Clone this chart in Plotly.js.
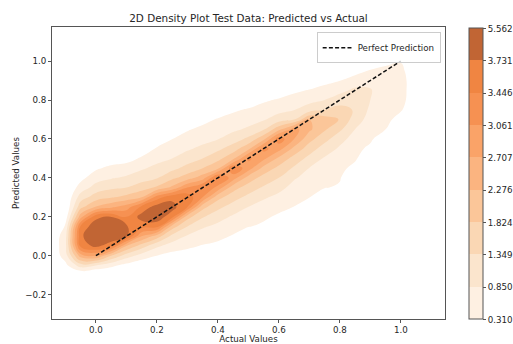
<!DOCTYPE html>
<html>
<head>
<meta charset="utf-8">
<script src="https://cdn.plot.ly/plotly-3.0.1.min.js"></script>
<style>
html,body{margin:0;padding:0;background:#fff;}
#chart{width:513px;height:344px;}
</style>
</head>
<body>
<div id="chart"></div>
<script>
const gridX = [-0.15, -0.10, -0.05, 0.00, 0.05, 0.10, 0.15, 0.20, 0.25, 0.30, 0.35, 0.40, 0.45,
               0.50, 0.55, 0.60, 0.65, 0.70, 0.75, 0.80, 0.85, 0.90, 0.95, 1.00, 1.05, 1.10];
const gridY = [-0.15, -0.10, -0.05, 0.00, 0.05, 0.10, 0.15, 0.20, 0.25, 0.30, 0.35, 0.40, 0.45,
               0.50, 0.55, 0.60, 0.65, 0.70, 0.75, 0.80, 0.85, 0.90, 0.95, 1.00, 1.05];

// one row per x column (values along y, bottom to top); below 0 = outside the lowest contour
const densityLevelGrid = [
/* -0.15 */ [-1,-1,-1,-1,-1,-1,-1,-1,-1,-1,-1,-1,-1,-1,-1,-1,-1,-1,-1,-1,-1,-1,-1,-1,-1],
/* -0.10 */ [-1,-1,-0.3,0.5,0.7,0.6,0.1,-0.6,-1,-1,-1,-1,-1,-1,-1,-1,-1,-1,-1,-1,-1,-1,-1,-1,-1],
/* -0.05 */ [-1,-1.2,1.5,4.5,7.3,7.8,7.2,4.6,2.7,1.5,0.4,-0.3,-1,-1,-1,-1,-1,-1,-1,-1,-1,-1,-1,-1,-1],
/*  0.00 */ [-1,-1.5,1.0,5.0,8.3,8.9,8.7,7.7,4.1,2.5,1.4,0.57,-0.15,-1,-1,-1,-1,-1,-1,-1,-1,-1,-1,-1,-1],
/*  0.05 */ [-1,-1.2,0.25,3.0,7.3,8.9,8.9,8.05,4.8,2.9,1.8,0.9,0.25,-0.6,-1,-1,-1,-1,-1,-1,-1,-1,-1,-1,-1],
/*  0.10 */ [-1,-1.2,-0.38,1.5,4.0,8.2,8.1,7.0,5.5,3.33,2.0,1.17,0.43,-0.4,-1,-1,-1,-1,-1,-1,-1,-1,-1,-1,-1],
/*  0.15 */ [-1,-1.5,-0.85,0.57,2.5,5.0,7.4,8.4,7.3,4.0,2.5,1.57,0.86,0.14,-0.6,-1,-1,-1,-1,-1,-1,-1,-1,-1,-1],
/*  0.20 */ [-1,-1,-1.2,-0.02,1.2,3.5,7.4,8.6,8.5,6.5,3.17,1.93,1.27,0.67,0.11,-0.6,-1,-1,-1,-1,-1,-1,-1,-1,-1],
/*  0.25 */ [-1,-1,-1.3,-0.35,0.52,1.69,3.5,7.4,8.4,7.7,4.25,2.75,1.71,1.0,0.5,-0.02,-0.7,-1,-1,-1,-1,-1,-1,-1,-1],
/*  0.30 */ [-1,-1,-1.2,-0.47,0.2,0.87,2.0,3.4,7.0,7.6,6.0,3.5,2.33,1.5,0.86,0.38,-0.1,-0.8,-1,-1,-1,-1,-1,-1,-1],
/*  0.35 */ [-1,-1,-1,-1.2,-0.07,0.5,1.13,2.11,3.33,6.0,7.1,4.5,3.0,2.0,1.23,0.68,0.23,-0.3,-1,-1,-1,-1,-1,-1,-1],
/*  0.40 */ [-1,-1,-1,-1.2,-0.25,0.25,0.74,1.4,2.26,3.33,5.67,7.2,3.78,2.7,1.77,0.96,0.53,0.09,-0.6,-1,-1,-1,-1,-1,-1],
/*  0.45 */ [-1,-1,-1,-1,-1.2,-0.085,0.39,0.86,1.56,2.4,3.43,5.5,6.8,3.74,2.51,1.49,0.79,0.32,-0.15,-0.8,-1,-1,-1,-1,-1],
/*  0.50 */ [-1,-1,-1,-1,-1,-1.0,0.06,0.52,0.97,1.72,2.52,3.57,5.5,6.2,3.77,2.23,1.16,0.59,0.1,-0.6,-1,-1,-1,-1,-1],
/*  0.55 */ [-1,-1,-1,-1,-1,-1.3,-0.23,0.21,0.64,1.12,1.87,2.62,3.66,5.25,6.3,3.74,1.87,0.89,0.36,-0.15,-0.8,-1,-1,-1,-1],
/*  0.60 */ [-1,-1,-1,-1,-1,-1,-1.0,-0.2,0.33,0.75,1.29,2.0,2.71,3.75,5.4,6.6,3.67,1.5,0.67,0.11,-0.6,-1,-1,-1,-1],
/*  0.65 */ [-1,-1,-1,-1,-1,-1,-1,-1.0,-0.03,0.34,0.69,1.1,1.85,2.62,3.71,5.0,5.4,2.0,0.97,0.38,-0.2,-1,-1,-1,-1],
/*  0.70 */ [-1,-1,-1,-1,-1,-1,-1,-1,-1.0,0.03,0.34,0.66,0.97,1.69,2.5,3.33,4.2,4.0,1.5,0.69,0.06,-0.7,-1,-1,-1],
/*  0.75 */ [-1,-1,-1,-1,-1,-1,-1,-1,-1,-1.0,0.07,0.34,0.62,0.9,1.52,2.36,3.15,3.5,2.0,1.0,0.36,-0.3,-1,-1,-1],
/*  0.80 */ [-1,-1,-1,-1,-1,-1,-1,-1,-1,-1,-0.15,0.1,0.35,0.6,0.85,1.33,2.2,2.95,2.4,1.5,0.71,-0.02,-0.8,-1,-1],
/*  0.85 */ [-1,-1,-1,-1,-1,-1,-1,-1,-1,-1,-1,-1.2,-0.4,0.2,0.4,0.6,1.0,1.5,1.9,1.6,1.2,0.5,-0.4,-1,-1],
/*  0.90 */ [-1,-1,-1,-1,-1,-1,-1,-1,-1,-1,-1,-1,-1,-1.2,-0.3,0.25,0.45,0.6,0.8,1.0,1.05,0.8,0.1,-0.8,-1],
/*  0.95 */ [-1,-1,-1,-1,-1,-1,-1,-1,-1,-1,-1,-1,-1,-1,-1,-1.0,0.02,0.3,0.45,0.55,0.6,0.55,0.3,-0.3,-1],
/*  1.00 */ [-1,-1,-1,-1,-1,-1,-1,-1,-1,-1,-1,-1,-1,-1,-1,-1,-1.2,-0.4,0.1,0.25,0.3,0.3,0.2,-0.05,-0.8],
/*  1.05 */ [-1,-1,-1,-1,-1,-1,-1,-1,-1,-1,-1,-1,-1,-1,-1,-1,-1,-1,-0.8,-0.5,-0.5,-0.5,-0.6,-0.9,-1],
/*  1.10 */ [-1,-1,-1,-1,-1,-1,-1,-1,-1,-1,-1,-1,-1,-1,-1,-1,-1,-1,-1,-1,-1,-1,-1,-1,-1]
];

// contour levels shown on the colour bar (density values)
const densityLevels = [0.310, 0.850, 1.349, 1.824, 2.276, 2.707, 3.061, 3.446, 3.731, 5.562];
// fill colour of each band between consecutive levels (bottom to top)
const bandColors = ['#fef0e2', '#fbe5cd', '#fad7b4', '#fbc699', '#fbb480',
                    '#faa368', '#f69152', '#f08542', '#c16534'];

// perfect prediction reference line
const perfectX = [0, 1];
const perfectY = [0, 1];

const xTicks = [0.0, 0.2, 0.4, 0.6, 0.8, 1.0];
const yTicks = [-0.2, 0.0, 0.2, 0.4, 0.6, 0.8, 1.0];

const nBands = bandColors.length;
const levelIndex = densityLevels.map((v, i) => i);

// contour fill: background (below first level) transparent, then one colour per band
const contourScale = [[0, 'rgba(255,255,255,0)']].concat(
  bandColors.map((c, i) => [(i + 1) / nBands, c]));

// stepped scale for the colour bar
const barScale = [];
bandColors.forEach((c, i) => { barScale.push([i / nBands, c]); barScale.push([(i + 1) / nBands, c]); });

const FONT = 'DejaVu Sans, Liberation Sans, sans-serif';
const TXT = '#262626';

const traces = [
  {
    type: 'heatmap',
    z: [[levelIndex[0], levelIndex[levelIndex.length - 1]]],
    zmin: levelIndex[0], zmax: levelIndex[levelIndex.length - 1],
    colorscale: barScale,
    opacity: 0,
    hoverinfo: 'skip',
    showscale: true,
    colorbar: {
      x: 1.061, xref: 'paper', xanchor: 'left', xpad: 0,
      y: 0.4966, yref: 'paper', yanchor: 'middle', ypad: 0,
      len: 291, lenmode: 'pixels',
      thickness: 14, thicknessmode: 'pixels',
      outlinewidth: 1, outlinecolor: '#555',
      tickmode: 'array', tickvals: levelIndex,
      ticktext: densityLevels.map(v => v.toFixed(3)),
      ticks: 'outside', ticklen: 3, tickwidth: 1, tickcolor: '#555',
      tickfont: {family: FONT, size: 8.7, color: TXT}
    }
  },
  {
    type: 'contour',
    x: gridX, y: gridY, z: densityLevelGrid, transpose: true,
    autocontour: false,
    contours: {start: levelIndex[0], end: levelIndex[nBands - 1], size: 1,
               coloring: 'fill', showlines: false},
    line: {width: 0, smoothing: 1.3},
    colorscale: contourScale,
    showscale: false,
    hoverinfo: 'skip',
    showlegend: false
  },
  {
    type: 'scatter', mode: 'lines',
    x: perfectX, y: perfectY,
    name: 'Perfect Prediction',
    line: {color: '#111', width: 1.5, dash: '4px,2.2px'},
    showlegend: true
  }
];

const axisCommon = {
  showgrid: false, zeroline: false,
  showline: true, mirror: true, linecolor: '#555', linewidth: 1,
  ticks: 'outside', ticklen: 3, tickwidth: 1, tickcolor: '#555',
  tickfont: {family: FONT, size: 8.7, color: TXT},
  tickformat: '.1f'
};

const layout = {
  width: 513, height: 344,
  margin: {l: 52, r: 68, t: 27, b: 25, pad: 0, autoexpand: false},
  paper_bgcolor: '#ffffff', plot_bgcolor: '#ffffff',
  font: {family: FONT, size: 8.7, color: TXT},
  title: {
    text: '2D Density Plot Test Data: Predicted vs Actual',
    font: {family: FONT, size: 10.4, color: TXT},
    xref: 'paper', x: 0.5, xanchor: 'center',
    yref: 'container', y: 0.948, yanchor: 'middle'
  },
  xaxis: Object.assign({}, axisCommon, {
    range: [-0.144, 1.145],
    tickmode: 'array', tickvals: xTicks,
    title: {text: 'Actual Values', standoff: 6, font: {family: FONT, size: 8.7, color: TXT}}
  }),
  yaxis: Object.assign({}, axisCommon, {
    range: [-0.325, 1.175],
    tickmode: 'array', tickvals: yTicks,
    title: {text: 'Predicted Values', standoff: 4, font: {family: FONT, size: 8.7, color: TXT}}
  }),
  showlegend: true,
  legend: {
    x: 0.989, xanchor: 'right', y: 0.982, yanchor: 'top',
    bgcolor: 'rgba(255,255,255,0.8)', bordercolor: '#cccccc', borderwidth: 1,
    font: {family: FONT, size: 8.7, color: TXT},
    itemwidth: 30, tracegroupgap: 0
  }
};

Plotly.newPlot('chart', traces, layout, {displayModeBar: false, staticPlot: true});
</script>
</body>
</html>
